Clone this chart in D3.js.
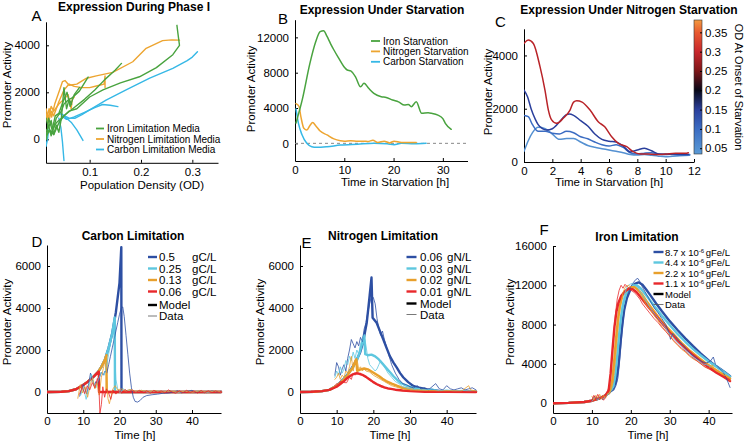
<!DOCTYPE html>
<html lang="en">
<head>
<meta charset="UTF-8">
<title>Promoter activity panels</title>
<script src="https://cdn.jsdelivr.net/npm/d3@7"></script>
<style>
  body { margin: 0; background: #fff; }
  svg { font-family: "Liberation Sans", Arial, Helvetica, sans-serif; }
  .axis path, .axis line { stroke: #000; stroke-width: 1; }
  .axis text { font-size: 11.5px; fill: #000; font-family: "Liberation Sans", Arial, sans-serif; }
</style>
</head>
<body>
<svg id="chart" width="745" height="441"></svg>
<script>
// ---------- data ----------
// colours
const ironColor = "#49a33f", nitroColor = "#eda531", carbonColor = "#36b8e6";
const limColors = ["#2d4fa3", "#5ec7df", "#e8a02c", "#e8282b"];

// A: [OD, activity]
const aIron = [
  [[0.015,200],[0.02,600],[0.025,150],[0.03,500],[0.035,900],[0.045,1200],[0.05,1500],[0.06,1700],[0.065,1750],[0.08,2050],[0.097,2650]],
  [[0.015,100],[0.022,400],[0.03,200],[0.04,700],[0.05,1000],[0.07,1350],[0.09,1700],[0.11,2100],[0.13,2550],[0.15,2950],[0.162,3230]],
  [[0.015,400],[0.025,300],[0.035,700],[0.045,900],[0.06,1200],[0.075,1300],[0.1,1800],[0.126,2100],[0.16,2400],[0.197,2660],[0.23,3050],[0.262,3600],[0.275,4000],[0.272,4500],[0.27,4850]],
  [[0.015,900],[0.02,500],[0.025,800],[0.03,200],[0.035,600],[0.04,300],[0.045,900],[0.05,2200],[0.055,1300],[0.06,1700],[0.065,1500]],
  [[0.016,0],[0.02,900],[0.027,400],[0.033,1000],[0.04,1100],[0.048,1600],[0.056,2000],[0.062,1400],[0.07,1900],[0.08,2200]]
];
const aNitrogen = [
  [[0.012,1500],[0.017,900],[0.021,1300],[0.026,950],[0.032,1500],[0.04,2000],[0.047,2450],[0.052,2500],[0.06,2300],[0.075,2350],[0.094,2600],[0.113,2700],[0.145,2850],[0.184,3300],[0.21,3870],[0.242,4200],[0.26,4230],[0.275,4220]],
  [[0.014,1100],[0.02,700],[0.025,1200],[0.03,1000],[0.04,1600],[0.05,2100],[0.06,2350],[0.07,2250],[0.085,2200],[0.1,2200],[0.115,2280],[0.128,2350],[0.13,2700],[0.13,2200]],
  [[0.015,1300],[0.02,900],[0.025,1400],[0.03,1200],[0.04,1500],[0.05,1700],[0.058,1900],[0.064,1300],[0.066,1700],[0.07,1800]]
];
const aCarbon = [
  [[0.04,1100],[0.048,1030],[0.06,900],[0.071,890],[0.085,1050],[0.1,1250],[0.132,1670],[0.171,2100],[0.217,2600],[0.262,3020],[0.29,3350],[0.3,3500],[0.31,3730]],
  [[0.045,1000],[0.055,850],[0.07,950],[0.09,1150],[0.11,1350],[0.125,1480],[0.14,1450],[0.155,1390]],
  [[0.045,1100],[0.055,900],[0.065,700],[0.075,400],[0.087,-50]],
  [[0.04,900],[0.044,500],[0.047,-100],[0.05,-900]],
  [[0.012,300],[0.015,-300],[0.018,0],[0.02,400]]
];
const aLegend = ["Iron Limitation Media", "Nitrogen Limitation Media", "Carbon Limitation Media"];

// B: [hours, activity]
const bIron = [[0.2,2300],[1.5,5000],[3,9000],[4.2,11500],[5.1,12650],[5.8,12750],[6.5,12100],[7.2,11300],[7.9,10570],[8.8,9700],[9.9,8700],[10.6,8300],[11.3,8200],[12.3,7500],[13.3,6400],[14,6800],[15,6200],[16,5660],[17.5,5280],[18.5,5200],[19.8,4900],[21,4700],[22.2,4340],[23,4400],[23.6,4150],[24.6,4710],[25.7,3400],[27,3450],[27.7,3400],[29,3200],[30,2800],[30.5,2270],[31.7,1590]];
const bNitrogen = [[0.2,4500],[0.8,4200],[1.2,3000],[1.8,1700],[2.4,1500],[3,2000],[3.6,2350],[4.2,2000],[5.1,1400],[6.5,950],[7.9,500],[9.2,300],[10,250],[11.3,300],[12.7,250],[14,250],[14.8,200],[15.8,350],[16.8,100],[18.1,250],[19.2,50],[20.1,250],[21.6,100],[22.9,100],[24.6,100]];
const bCarbon = [[0.2,3900],[0.7,2260],[1.4,1000],[2.4,0],[3.4,-380],[4.4,-450],[6.5,-380],[9.2,-200],[12.7,-100],[16,0],[18.7,-50],[20.1,-150],[21.6,0],[24.2,-50],[26.6,0]];
const bLegend = ["Iron Starvation", "Nitrogen Starvation", "Carbon Starvation"];

// C: [hours, activity], coloured by OD at onset of starvation
const cOD = [0.29, 0.15, 0.1, 0.05];
const cCurves = [
  [[0,4450],[0.3,4580],[0.66,4450],[1.13,3580],[1.48,2700],[1.72,1950],[1.95,1580],[2.3,1450],[2.77,1640],[3.25,1950],[3.5,2250],[3.72,2300],[4.1,2250],[4.66,1950],[5.24,1510],[5.7,1320],[6.19,950],[6.66,700],[7.25,575],[7.7,390],[8.2,300],[8.77,300],[9.3,280],[10,300],[10.7,330],[11.4,330],[11.6,350]],
  [[0,2700],[0.25,2450],[0.5,2000],[0.8,1600],[1,1400],[1.3,1250],[1.6,1200],[2,1250],[2.5,1500],[3,1780],[3.2,1800],[3.5,1750],[4,1550],[4.5,1350],[5,1050],[5.5,850],[6,780],[6.5,750],[7,600],[7.5,380],[8,450],[8.5,520],[9,420],[9.5,300],[10,280],[10.5,300],[11,290],[11.6,280]],
  [[0,1750],[0.3,1700],[0.6,1400],[1,1150],[1.5,1150],[2,1080],[2.5,1050],[3,1150],[3.5,1100],[4,950],[4.5,870],[5,750],[5.5,650],[6,600],[6.5,650],[7,550],[7.5,350],[8,300],[8.5,330],[9,350],[9.5,300],[10,300],[10.5,280],[11,260],[11.7,280]],
  [[0,400],[0.3,800],[0.6,1100],[1,1300],[1.5,1250],[2,1050],[2.5,850],[3,880],[3.5,880],[4,750],[4.5,620],[5,550],[5.5,500],[6,450],[6.5,400],[7,350],[7.5,280],[8,260],[8.5,280],[9,250],[9.5,220],[10,200],[10.5,220],[11,230],[11.7,250]]
];
const cbStops = [0.035, 0.1, 0.15, 0.2, 0.25, 0.3, 0.35, 0.382];
const cbColors = ["#5b9bd6", "#3b6cc2", "#2a3f9c", "#080818", "#7d1618", "#c8262c", "#e85a30", "#f39a40"];
const cbTicks = [0.05, 0.1, 0.15, 0.2, 0.25, 0.3, 0.35];

// D: carbon limitation
const dLabels = ["0.5", "0.25", "0.13", "0.06"];
const dModel = [
  [[0,0],[4,10],[6,40],[8,130],[10,330],[11,460],[12,600],[13,760],[14,930],[15,1200],[16,1550],[17,2100],[18,2800],[19,3800],[20,5200],[20.5,6900],[20.55,0],[48,0]],
  [[0,0],[4,10],[6,40],[8,130],[10,330],[11,460],[12,600],[13,760],[14,930],[15,1200],[16,1550],[17,2100],[18,2800],[18.7,3550],[18.75,0],[48,0]],
  [[0,0],[4,10],[6,40],[8,130],[10,330],[11,460],[12,600],[13,760],[14,930],[15,1200],[16,1550],[16.4,1750],[16.45,0],[48,0]],
  [[0,0],[4,10],[6,40],[8,130],[10,330],[11,460],[12,600],[13,760],[14,930],[14.3,970],[14.35,0],[48,0]]
];
const dData = [
  [[9,-200],[9.5,100],[10,350],[10.5,150],[11,-100],[11.5,400],[12,900],[12.5,600],[13,300],[13.5,500],[14,350],[14.5,700],[15,950],[15.5,800],[16,1000],[16.5,900],[17,1300],[17.5,1700],[18,2100],[18.5,2500],[19,2900],[19.5,3300],[20,3700],[20.5,4000],[20.9,4050],[21.3,3600],[21.8,2700],[22.3,1800],[22.8,900],[23.3,200],[23.8,-250],[24.3,-450],[25,-480],[25.7,-400],[26.5,-250],[27.5,-170],[29,-130],[30.5,-100],[32,-60],[33.5,-50],[35,0],[36,60],[37,-40],[38.5,30],[40,80],[41,-20],[42.5,40],[44,-30],[45.5,50],[47,0],[48,40]],
  [[9.3,-150],[10,250],[10.8,-350],[11.5,200],[12.2,850],[12.8,500],[13.5,200],[14.2,600],[15,950],[15.8,800],[16.5,1300],[17,1800],[17.5,2300],[18,2800],[18.4,3000],[18.7,1800],[19,600],[19.5,150],[20.2,-50],[21,150],[22,50],[23,120],[24.5,0],[26,80],[28,-20],[30,60],[32,0],[34,50],[36,-30],[38,40],[40,0],[42,50],[44,-20],[46,30],[48,10]],
  [[8.5,-300],[9.2,350],[9.8,-50],[10.5,250],[11.2,-250],[12,400],[12.6,650],[13.2,150],[13.8,450],[14.4,-150],[15,700],[15.5,1100],[16,1500],[16.4,1000],[16.8,-300],[17.2,-560],[17.7,-200],[18.2,150],[18.8,300],[19.5,100],[20.5,150],[21.5,50],[23,120],[24.5,30],[26,80],[28,20],[30,60],[32,0],[34,50],[36,0],[38,40],[40,-10],[42,50],[44,0],[46,40],[48,20]],
  [[9,-100],[9.7,250],[10.4,-80],[11.1,300],[11.8,100],[12.5,450],[13.2,200],[13.9,650],[14.3,300],[14.6,-1000],[15,-600],[15.4,250],[15.9,-250],[16.4,150],[17,-50],[17.6,-350],[18.2,100],[19,-100],[19.8,80],[20.6,-60],[21.5,120],[22.5,0],[23.5,100],[24.5,-30],[25.5,80],[26.5,-40],[27.5,60],[28.5,-60],[29.5,80],[30.5,-20],[31.5,50],[32.5,-50],[33.5,100],[34.5,0],[35.5,-60],[36.5,60],[37.5,-40],[38.5,80],[39.5,-30],[40.5,50],[41.5,-50],[42.5,70],[43.5,-40],[44.5,60],[45.5,-30],[46.5,50],[47.5,-20],[48,40]]
];

// E: nitrogen limitation
const eLabels = ["0.06", "0.03", "0.02", "0.01"];
const eModel = [
  [[0,0],[4,15],[6,40],[8,100],[10,300],[11.8,600],[13,850],[14.5,1240],[15.5,1550],[16.4,1880],[17.1,2300],[17.7,2830],[18.2,3300],[18.6,3940],[19,4600],[19.5,5450],[19.8,3540],[20.9,3300],[21.8,2900],[22.7,2510],[23.6,2100],[24.5,1710],[25.5,1400],[26.4,1160],[27.3,900],[28.2,690],[29.5,470],[30.9,290],[32.5,200],[34.5,130],[38,50],[42,20],[48,10]],
  [[0,0],[4,15],[6,40],[8,100],[10,300],[11.8,580],[13,820],[14.5,1200],[15.5,1500],[16.4,1950],[17,2350],[17.5,2700],[17.8,1800],[18.5,1750],[19.5,1780],[20.5,1700],[21.5,1550],[22.5,1350],[23.5,1150],[24.5,950],[25.5,750],[26.5,580],[27.5,430],[29,300],[31,180],[34,90],[38,40],[48,10]],
  [[0,0],[4,15],[6,40],[8,100],[10,290],[11.8,560],[13,800],[14.5,1200],[15.3,1560],[15.6,1000],[16.5,1080],[17.5,1120],[18.5,1080],[19.5,980],[20.5,870],[21.6,750],[22.5,630],[23.5,520],[25,400],[26.4,300],[28,200],[31,100],[35,40],[48,10]],
  [[0,0],[3,10],[6,40],[8,100],[10,250],[11,380],[12,520],[13,680],[14,800],[15,880],[16,880],[17,820],[18,720],[19,600],[20,470],[21,370],[22,290],[23,220],[24,170],[26,110],[28,70],[30,40],[34,15],[40,5],[48,0]]
];
const eData = [
  [[9.5,800],[10,1400],[10.5,1200],[11,800],[11.5,1100],[12,1300],[12.5,1000],[13,1600],[13.5,2000],[14,2500],[14.5,2300],[15,2100],[15.5,2400],[16,2200],[16.5,2600],[17,2400],[17.5,3000],[18,3300],[18.5,3800],[19,4200],[19.5,4600],[20,4500],[20.5,4200],[21,3500],[21.5,3000],[22,2700],[22.5,2900],[23,2500],[24,1900],[25,1300],[26,900],[27,600],[28,400],[29,350],[30,250],[31,200],[32,300],[33,150],[34,200],[35,100],[36,250],[37,400],[38,150],[39,100],[40,300],[41,150],[42,100],[43,150],[44,200],[45,100],[46,150],[47,200],[48,100]],
  [[9.5,700],[10,1000],[10.5,800],[11,1200],[11.5,900],[12,1100],[12.5,1500],[13,1300],[13.5,1700],[14,1500],[14.5,1900],[15,1600],[15.5,2000],[16,1800],[16.5,2300],[17,2500],[17.5,2700],[18,2200],[18.5,1600],[19,1300],[19.5,1200],[20,1100],[20.5,1000],[21,1100],[21.5,1300],[22,1500],[22.5,1400],[23,1200],[24,900],[25,700],[26,500],[27,400],[28,250],[30,150],[32,100],[34,80],[36,150],[38,60],[40,100],[42,50],[44,80],[46,50],[48,60]],
  [[9.5,600],[10,700],[10.5,900],[11,600],[11.5,800],[12,700],[12.5,1000],[13,900],[13.5,1200],[14,1700],[14.5,1000],[15,1500],[15.5,1600],[16,1100],[16.5,1200],[17,1000],[17.5,1100],[18,1000],[19,950],[20,800],[21,700],[22,600],[23,500],[24,400],[25,300],[26,250],[28,150],[30,100],[32,80],[35,50],[38,40],[41,60],[44,40],[46,300],[46.5,100],[48,50]],
  [[9.5,300],[10,400],[10.5,350],[11,500],[12,450],[12.7,440],[13.5,700],[14,600],[14.5,900],[15,800],[15.5,950],[16,850],[16.5,900],[17,800],[18,700],[19,550],[20,450],[21,350],[22,250],[23,200],[24,150],[26,100],[28,60],[30,40],[33,30],[36,20],[40,10],[44,10],[48,10]]
];

// F: iron limitation
const fLabels = ["8.7", "4.4", "2.2", "1.1"];
const fModel = [
  [[0,0],[4,30],[8,120],[10,250],[12,500],[13.5,800],[14.5,1100],[15.5,1500],[16.2,2200],[16.8,3800],[17.3,6000],[17.8,8000],[18.3,9500],[19,10700],[20,11700],[21,12150],[22,12300],[23,12050],[24,11550],[25,11000],[26.5,10150],[28,9350],[30,8350],[32,7450],[34,6600],[36,5800],[38,5050],[40,4350],[42,3750],[44,3200],[45.5,2750]],
  [[0,0],[4,30],[8,120],[10,250],[12,500],[13.5,800],[14.5,1150],[15.5,1700],[16,2800],[16.5,4800],[17,7000],[17.5,8800],[18,10000],[18.7,11000],[19.5,11600],[20.5,11950],[21.5,12000],[22.5,11700],[23.5,11200],[24.5,10700],[26,9900],[28,8900],[30,7950],[32,7050],[34,6250],[36,5500],[38,4850],[40,4250],[42,3700],[44,3150],[45.5,2700]],
  [[0,0],[4,30],[8,120],[10,250],[12,500],[13.5,800],[14.5,1200],[15.2,2200],[15.7,4200],[16.2,6600],[16.7,8600],[17.2,9900],[17.8,10900],[18.8,11500],[20,11800],[21,11800],[22,11500],[23,11000],[24,10400],[25.5,9600],[27,8800],[29,7850],[31,7000],[33,6150],[35,5400],[37,4750],[39,4150],[41,3600],[43,3100],[45.5,2500]],
  [[0,0],[4,30],[8,120],[10,250],[12,500],[13.5,800],[14.3,1300],[14.8,3000],[15.3,5500],[15.8,7800],[16.3,9300],[16.8,10200],[17.5,10900],[18.5,11400],[19.5,11650],[20.5,11600],[21.5,11300],[22.5,10800],[23.5,10300],[24.5,9800],[26,9100],[28,8150],[30,7200],[32,6350],[34,5600],[36,4900],[38,4250],[40,3650],[42,3100],[44,2650],[45.5,2250]]
];
const fData = [
  [[10,300],[10.7,700],[11.4,400],[12,650],[12.8,350],[13.5,700],[14.2,900],[15,1200],[15.6,1300],[16.2,1800],[16.7,2600],[17.2,4600],[17.7,7000],[18.2,9000],[18.7,10300],[19.3,11200],[20,11900],[20.7,12300],[21.3,12600],[21.8,12700],[22.3,12400],[23,11800],[24,11100],[25,10400],[26,9700],[27,9200],[28,8600],[29,8000],[29.7,7300],[30.2,6500],[30.8,7100],[31.5,6800],[32.5,6300],[33.5,5900],[34.5,5400],[35.5,5000],[36.5,4700],[37.5,4400],[38.5,4200],[39.5,4100],[40.5,4300],[41.2,4700],[41.8,3900],[42.5,3600],[43.5,3300],[44.5,2600],[45,2100],[45.5,1600]],
  [[10,200],[10.8,600],[11.5,300],[12.3,700],[13,450],[13.7,800],[14.4,1000],[15.1,1300],[15.7,1900],[16.2,3300],[16.7,5600],[17.2,7900],[17.7,9800],[18.3,11000],[19,11800],[19.7,12100],[20.4,12200],[21,12000],[21.7,11800],[22.5,11300],[23.5,10700],[24.5,10000],[25.5,9400],[26.5,8900],[27.5,8400],[28.5,7900],[29.5,7300],[30.5,6900],[31.5,6400],[32.5,6000],[33.5,5600],[34.5,5200],[35.5,4900],[36.5,4500],[37.5,4300],[38.5,4000],[39.5,3900],[40.5,3700],[41.5,4000],[42.5,3500],[43.5,3200],[44.5,3000],[45.5,2800]],
  [[10,700],[10.5,300],[11,800],[11.5,500],[12,900],[12.5,400],[13,800],[13.5,500],[14,1000],[14.5,900],[15,1400],[15.5,2200],[16,4200],[16.5,6600],[17,8800],[17.5,10300],[18,11300],[18.7,11900],[19.4,12000],[20.1,11800],[20.8,11900],[21.5,11600],[22.3,11200],[23,10700],[24,10000],[25,9500],[26,8900],[27,8400],[28,7800],[29,7300],[30,6900],[31,6300],[32,5900],[33,5500],[34,5200],[35,4800],[36,4500],[37,4300],[38,4000],[39,3700],[40,3500],[41,3900],[41.5,3400],[42.5,3200],[43.5,2900],[44.5,2800],[45.5,2300]],
  [[10,300],[10.5,800],[11,400],[11.5,900],[12,500],[12.5,700],[13,300],[13.5,600],[14,1200],[14.5,1800],[15,3800],[15.5,6500],[16,8900],[16.5,10600],[17,11500],[17.5,12000],[18,11700],[18.5,12100],[19.2,11800],[20,11500],[20.8,11300],[21.5,11000],[22.3,10600],[23,10100],[24,9600],[25,9100],[26,8600],[27,8200],[28,7700],[29,7300],[30,6800],[31,6400],[32,6000],[33,5600],[34,5300],[35,4900],[36,4600],[37,4300],[38,4000],[39,3700],[40,3500],[41,3300],[42,3100],[43,2900],[44,2700],[45.5,2400]]
];

// ---------- drawing ----------
const svg = d3.select("#chart");

function makePanel(p) {
  const x = d3.scaleLinear().domain(p.xDomain).range(p.xRange);
  const y = d3.scaleLinear().domain(p.yDomain).range(p.yRange);
  const g = svg.append("g");
  const clipId = "clip" + p.letter;
  svg.append("clipPath").attr("id", clipId).append("rect")
    .attr("x", p.xRange[0]).attr("y", p.yRange[1] - 1)
    .attr("width", p.xRange[1] - p.xRange[0] + 2)
    .attr("height", p.yRange[0] - p.yRange[1] + 1);

  g.append("g").attr("class", "axis")
    .attr("transform", `translate(0,${p.yRange[0]})`)
    .call(d3.axisBottom(x).tickValues(p.xTicks).tickSizeInner(-3).tickSizeOuter(0)
      .tickPadding(p.xPad || 5).tickFormat(d3.format("")));
  g.append("g").attr("class", "axis")
    .attr("transform", `translate(${p.xRange[0]},0)`)
    .call(d3.axisLeft(y).tickValues(p.yTicks).tickSizeInner(-3).tickSizeOuter(0)
      .tickPadding(6).tickFormat(d3.format("")));

  // title, panel letter, axis labels
  g.append("text").attr("x", p.title[1]).attr("y", p.title[2])
    .attr("text-anchor", "middle").attr("font-weight", "bold").attr("font-size", 12)
    .text(p.title[0]);
  g.append("text").attr("x", p.letterPos[0]).attr("y", p.letterPos[1])
    .attr("font-size", 15).text(p.letter);
  g.append("text").attr("x", p.xLabel[1]).attr("y", p.xLabel[2])
    .attr("text-anchor", "middle").attr("font-size", 11.5).text(p.xLabel[0]);
  g.append("text").attr("transform", `translate(${p.yLabel[0]},${p.yLabel[1]}) rotate(-90)`)
    .attr("text-anchor", "middle").attr("font-size", 11.5).text("Promoter Activity");

  const plot = g.append("g").attr("clip-path", `url(#${clipId})`);
  return { x, y, g, plot };
}

function drawLine(panel, pts, color, width, curve) {
  panel.plot.append("path").datum(pts)
    .attr("fill", "none").attr("stroke", color).attr("stroke-width", width)
    .attr("stroke-linejoin", "round").attr("stroke-linecap", "round")
    .attr("d", d3.line().x(d => panel.x(d[0])).y(d => panel.y(d[1])).curve(curve || d3.curveLinear));
}

function legendRow(g, x0, x1, y, color, width) {
  g.append("line").attr("x1", x0).attr("x2", x1).attr("y1", y).attr("y2", y)
    .attr("stroke", color).attr("stroke-width", width);
}

// Panel A
const pA = makePanel({
  letter: "A", xDomain: [0.015, 0.35], xRange: [46, 218], yDomain: [-1000, 5000], yRange: [162.8, 21.8],
  xTicks: [0.1, 0.2, 0.3], yTicks: [0, 2000, 4000],
  title: ["Expression During Phase I", 134, 10.5], letterPos: [31.5, 20.7],
  xLabel: ["Population Density (OD)", 142, 188.5], yLabel: [11, 85]
});
aCarbon.forEach(c => drawLine(pA, c, carbonColor, 1.4));
aNitrogen.forEach(c => drawLine(pA, c, nitroColor, 1.4));
aIron.forEach(c => drawLine(pA, c, ironColor, 1.4));
[ironColor, nitroColor, carbonColor].forEach((c, i) => {
  const yy = 128.5 + i * 10.5;
  legendRow(pA.g, 96, 104, yy, c, 1.8);
  pA.g.append("text").attr("x", 107).attr("y", yy + 3.5).attr("font-size", 10).text(aLegend[i]);
});

// Panel B
const pB = makePanel({
  letter: "B", xDomain: [0, 35], xRange: [295, 467.5], yDomain: [-2000, 14000], yRange: [161, 19.7],
  xTicks: [0, 10, 20, 30], yTicks: [0, 4000, 8000, 12000],
  title: ["Expression Under Starvation", 382, 13.5], letterPos: [278, 24],
  xLabel: ["Time in Starvation [h]", 395, 186], yLabel: [255, 89]
});
pB.plot.append("line").attr("x1", pB.x(0)).attr("x2", pB.x(35))
  .attr("y1", pB.y(0)).attr("y2", pB.y(0))
  .attr("stroke", "#888").attr("stroke-dasharray", "3,3").attr("stroke-width", 1);
drawLine(pB, bCarbon, carbonColor, 1.5, d3.curveMonotoneX);
drawLine(pB, bNitrogen, nitroColor, 1.5, d3.curveMonotoneX);
drawLine(pB, bIron, ironColor, 1.5, d3.curveMonotoneX);
[ironColor, nitroColor, carbonColor].forEach((c, i) => {
  const yy = 41 + i * 10.4;
  legendRow(pB.g, 371, 380, yy, c, 1.8);
  pB.g.append("text").attr("x", 383).attr("y", yy + 3.5).attr("font-size", 10).text(bLegend[i]);
});

// Panel C
const odColor = d3.scaleLinear().domain(cbStops).range(cbColors).interpolate(d3.interpolateRgb);
const pC = makePanel({
  letter: "C", xDomain: [0, 12], xRange: [524, 694], yDomain: [0, 5000], yRange: [162, 28.8],
  xTicks: [0, 2, 4, 6, 8, 10, 12], yTicks: [0, 2000, 4000],
  title: ["Expression Under Nitrogen Starvation", 629, 13.5], letterPos: [495, 26.5],
  xLabel: ["Time in Starvation [h]", 609, 186], yLabel: [492, 92]
});
cCurves.slice().reverse().forEach((c, i) => {
  const k = cCurves.length - 1 - i;
  drawLine(pC, c, odColor(cOD[k]), 1.5, d3.curveMonotoneX);
});

// colourbar
const cbY = d3.scaleLinear().domain([cbStops[0], cbStops[cbStops.length - 1]]).range([154, 20]);
const grad = svg.append("defs").append("linearGradient").attr("id", "cbGrad")
  .attr("x1", 0).attr("x2", 0).attr("y1", 1).attr("y2", 0);
cbStops.forEach((s, i) => {
  grad.append("stop")
    .attr("offset", (s - cbStops[0]) / (cbStops[cbStops.length - 1] - cbStops[0]))
    .attr("stop-color", cbColors[i]);
});
svg.append("rect").attr("x", 694).attr("y", 20).attr("width", 8).attr("height", 134)
  .attr("fill", "url(#cbGrad)").attr("stroke", "#333").attr("stroke-width", 0.6);
svg.append("g").attr("class", "axis").attr("transform", "translate(702,0)")
  .call(d3.axisRight(cbY).tickValues(cbTicks).tickSizeInner(-2).tickSizeOuter(0)
    .tickPadding(3).tickFormat(d3.format("")))
  .call(s => s.select(".domain").remove());
svg.append("text").attr("transform", "translate(735,87) rotate(90)")
  .attr("text-anchor", "middle").attr("font-size", 11).text("OD At Onset of Starvation");

// Panels D, E, F share the model / data layout
function limitationPanel(p, models, datas, legendFn) {
  const panel = makePanel(p);
  for (let i = 0; i < 4; i++) drawLine(panel, models[i], limColors[i], 2.4);
  for (let i = 0; i < 4; i++) drawLine(panel, datas[i], limColors[i], 0.8);
  legendFn(panel.g);
  return panel;
}

const pD = limitationPanel({
  letter: "D", xDomain: [0, 48], xRange: [47, 221], yDomain: [-1000, 7000], yRange: [413, 245],
  xTicks: [0, 10, 20, 30, 40], yTicks: [0, 2000, 4000, 6000], xPad: 4,
  title: ["Carbon Limitation", 133, 240], letterPos: [31.5, 246.5],
  xLabel: ["Time [h]", 135, 438.5], yLabel: [11, 322]
}, dModel, dData, g => {
  const rows = [257, 268.5, 280, 291.5, 305, 316];
  limColors.forEach((c, i) => {
    legendRow(g, 148, 157, rows[i], c, 2.4);
    g.append("text").attr("x", 159).attr("y", rows[i] + 4).attr("font-size", 11.5).text(dLabels[i]);
    g.append("text").attr("x", 192).attr("y", rows[i] + 4).attr("font-size", 11.5).text("gC/L");
  });
  legendRow(g, 148, 157, rows[4], "#000", 2.4);
  g.append("text").attr("x", 159).attr("y", rows[4] + 4).attr("font-size", 11.5).text("Model");
  legendRow(g, 148, 157, rows[5], "#555", 0.8);
  g.append("text").attr("x", 159).attr("y", rows[5] + 4).attr("font-size", 11.5).text("Data");
});

const pE = limitationPanel({
  letter: "E", xDomain: [0, 48], xRange: [300, 476], yDomain: [-1000, 7000], yRange: [413, 245],
  xTicks: [0, 10, 20, 30, 40], yTicks: [0, 2000, 4000, 6000], xPad: 4,
  title: ["Nitrogen Limitation", 383, 240], letterPos: [301.5, 248],
  xLabel: ["Time [h]", 390, 438.5], yLabel: [264, 322]
}, eModel, eData, g => {
  const rows = [257, 268.5, 280, 291.5, 303.5, 314.5];
  limColors.forEach((c, i) => {
    legendRow(g, 406.5, 416.5, rows[i], c, 2.4);
    g.append("text").attr("x", 420).attr("y", rows[i] + 4).attr("font-size", 11.5).text(eLabels[i]);
    g.append("text").attr("x", 447).attr("y", rows[i] + 4).attr("font-size", 11.5).text("gN/L");
  });
  legendRow(g, 406.5, 416.5, rows[4], "#000", 2.4);
  g.append("text").attr("x", 420).attr("y", rows[4] + 4).attr("font-size", 11.5).text("Model");
  legendRow(g, 406.5, 416.5, rows[5], "#555", 0.8);
  g.append("text").attr("x", 420).attr("y", rows[5] + 4).attr("font-size", 11.5).text("Data");
});

const pF = limitationPanel({
  letter: "F", xDomain: [0, 46], xRange: [553, 732], yDomain: [-1000, 16000], yRange: [413, 246],
  xTicks: [0, 10, 20, 30, 40], yTicks: [0, 4000, 8000, 12000, 16000], xPad: 4,
  title: ["Iron Limitation", 637, 241], letterPos: [539.5, 235],
  xLabel: ["Time [h]", 648, 438.5], yLabel: [514, 322]
}, fModel, fData, g => {
  const rows = [252, 262.5, 273, 283.5, 294, 304.5];
  limColors.forEach((c, i) => {
    legendRow(g, 653.5, 663.5, rows[i], c, 2.4);
    const t = g.append("text").attr("x", 665).attr("y", rows[i] + 3.5).attr("font-size", 9.5);
    t.append("tspan").text(fLabels[i] + " x 10");
    t.append("tspan").attr("dy", -3).attr("font-size", 6).text("-6");
    t.append("tspan").attr("dy", 3).attr("dx", 1.5).text("gFe/L");
  });
  legendRow(g, 653.5, 663.5, rows[4], "#000", 2.4);
  g.append("text").attr("x", 665).attr("y", rows[4] + 3.5).attr("font-size", 9.5).text("Model");
  legendRow(g, 653.5, 663.5, rows[5], "#555", 0.8);
  g.append("text").attr("x", 665).attr("y", rows[5] + 3.5).attr("font-size", 9.5).text("Data");
});
</script>
</body>
</html>
